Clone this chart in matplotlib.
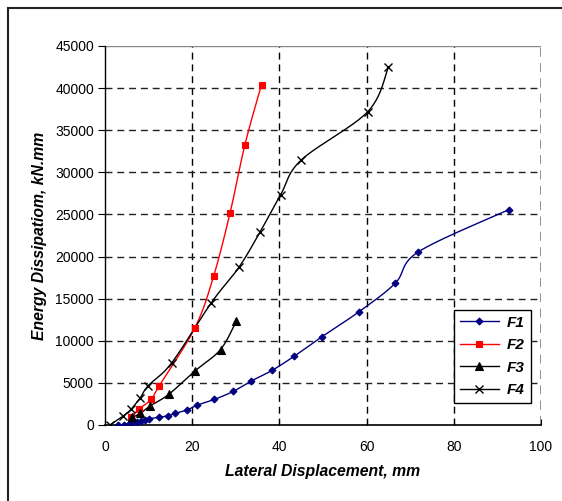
import numpy as np
import matplotlib
matplotlib.use("Agg")
import matplotlib.pyplot as plt
from matplotlib.patches import Rectangle
from matplotlib.lines import Line2D

plt.rcParams['font.family'] = ['Liberation Sans', 'DejaVu Sans']

# data
f1_x = [3.0, 4.4, 5.4, 6.3, 7.3, 8.2, 9.2, 10.2, 12.4, 14.5, 16.1, 18.9, 21.2, 25.1,
        29.4, 33.5, 38.4, 43.4, 49.7, 58.3, 66.6, 71.9, 92.7]
f1_y = [0, 0, 120, 200, 320, 470, 590, 750, 910, 1100, 1380, 1810, 2370, 3040,
        3990, 5210, 6510, 8170, 10460, 13460, 16850, 20570, 25580]

f2_x = [5.9, 7.8, 10.6, 12.4, 20.6, 24.9, 28.7, 32.1, 35.9]
f2_y = [950, 1890, 3040, 4620, 11520, 17650, 25220, 33300, 40420]

f3_x = [6.25, 8.1, 10.3, 14.6, 20.6, 26.5, 30.1]
f3_y = [910, 1380, 2250, 3630, 6400, 8960, 12320]

f4_x = [1.1, 4.2, 6.0, 8.1, 9.9, 15.3, 24.4, 30.7, 35.5, 40.3, 45.0, 60.3, 65.0]
f4_y = [0, 1070, 1890, 3240, 4660, 7380, 14530, 18710, 22860, 27360, 31460, 37220, 42520]

x_ticks = [0, 20, 40, 60, 80, 100]
y_ticks = list(range(0, 45001, 5000))


def smooth(x, y, n=24):
    # excel-like smoothed line (bezier through the points)
    p = np.column_stack([x, y]).astype(float)
    out = [p[0]]
    t = np.linspace(0, 1, n)[1:, None]
    for i in range(len(p) - 1):
        p0 = p[i - 1] if i > 0 else p[i]
        p1, p2 = p[i], p[i + 1]
        p3 = p[i + 2] if i + 2 < len(p) else p[i + 1]
        c1 = p1 + (p2 - p0) / 6
        c2 = p2 - (p3 - p1) / 6
        seg = ((1 - t) ** 3) * p1 + 3 * ((1 - t) ** 2) * t * c1 + 3 * (1 - t) * t ** 2 * c2 + t ** 3 * p2
        out.extend(seg)
    out = np.array(out)
    return out[:, 0], out[:, 1]


fig = plt.figure(figsize=(5.62, 5.01), dpi=100)
fig.patches.append(Rectangle((8 / 562, -0.1), 1.2, 1 - 8 / 501 + 0.1,
                             transform=fig.transFigure, fill=False,
                             edgecolor='#222222', linewidth=1.5))
ax = fig.add_axes([105 / 562, 1 - 425 / 501, 436 / 562, 379 / 501])

series = [
    (f1_x, f1_y, '#000080', 'D', 3.5, 'F1'),
    (f2_x, f2_y, '#ff0000', 's', 5, 'F2'),
    (f3_x, f3_y, 'black', '^', 6, 'F3'),
    (f4_x, f4_y, 'black', 'x', 6, 'F4'),
]
handles = []
for xs, ys, c, m, ms, lab in series:
    sx, sy = smooth(xs, ys)
    ax.plot(sx, sy, color=c, linewidth=1, zorder=3, clip_on=True)
    ax.plot(xs, ys, linestyle='none', marker=m, markersize=ms, color=c,
            markeredgecolor=c, markeredgewidth=1 if m == 'x' else 0.8, zorder=4)
    handles.append(Line2D([], [], color=c, linewidth=1, marker=m, markersize=ms,
                          markeredgewidth=1 if m == 'x' else 0.8, label=lab))

ax.set_xlim(0, 100)
ax.set_ylim(0, 45000)
ax.set_xticks(x_ticks)
ax.set_yticks(y_ticks)
ax.set_xticklabels([str(v) for v in x_ticks], fontsize=10)
ax.set_yticklabels([str(v) for v in y_ticks], fontsize=10)
ax.tick_params(axis='x', direction='in', length=4, pad=11)
ax.tick_params(axis='y', direction='out', length=5, pad=3)

for v in x_ticks[1:-1]:
    ax.axvline(v, color='black', linewidth=1, linestyle=(0, (5, 3.5)), zorder=1)
ax.axvline(100, color='#888888', linewidth=1.3, linestyle=(0, (5, 3.5)), zorder=1)
for v in y_ticks[1:-1]:
    ax.axhline(v, color='#222222', linewidth=1, linestyle=(0, (5, 3.5)), zorder=1)
ax.axhline(45000, color='#888888', linewidth=1, zorder=1)

ax.spines['top'].set_visible(False)
ax.spines['right'].set_visible(False)
ax.spines['left'].set_linewidth(1)
ax.spines['bottom'].set_linewidth(1.2)

ax.set_xlabel('Lateral Displacement, mm', fontsize=11.3, fontweight='bold',
              fontstyle='italic', labelpad=7)
ax.set_ylabel('Energy Dissipatiom, kN.mm', fontsize=11.3, fontweight='bold',
              fontstyle='italic', labelpad=6)

leg = ax.legend(handles=handles, loc='lower right', bbox_to_anchor=(0.977, 0.058),
                prop={'weight': 'bold', 'style': 'italic', 'size': 11},
                fancybox=False, framealpha=1, edgecolor='black',
                handlelength=2.6, labelspacing=0.55, borderpad=0.4,
                handletextpad=0.5, borderaxespad=0)
leg.get_frame().set_linewidth(1)

fig.savefig('out.png', dpi=100)
